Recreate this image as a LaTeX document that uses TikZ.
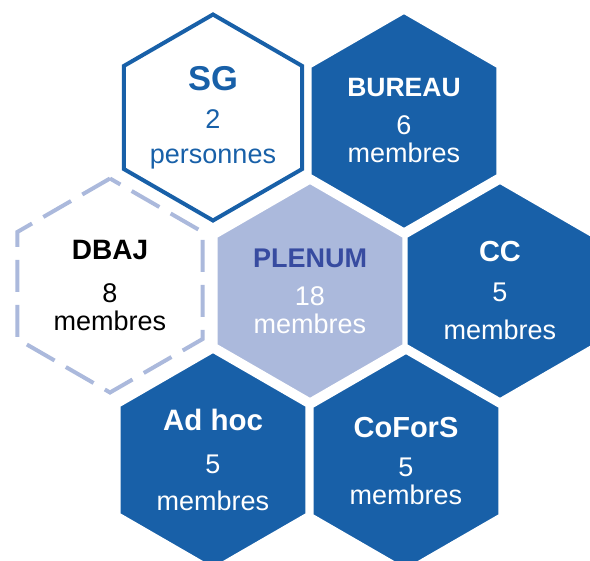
\documentclass[tikz,border=0pt]{standalone}
\usepackage{fontspec}
\setmainfont{Liberation Sans}
\usetikzlibrary{shapes.geometric}
\definecolor{hexblue}{RGB}{24,96,168}
\definecolor{hexlight}{RGB}{171,185,220}
\definecolor{hexindigo}{RGB}{55,75,160}
\tikzset{%
  hexa/.style = {
    regular polygon, regular polygon sides=6,
    shape border rotate=30, minimum size=217pt,
    inner sep=0pt, align=center, text=white,
    font=\fontsize{27}{30}\selectfont
  },
  fullhex/.style = {hexa, fill=hexblue, draw=white, line width=3pt},
  midhex/.style = {hexa, fill=hexlight, draw=white, line width=3pt},
  openhex/.style = {hexa, minimum size=206pt, draw=hexblue,
    line width=4pt, text=hexblue},
  dashedhex/.style = {hexa, minimum size=214pt, draw=hexlight,
    line width=4pt, dash pattern=on 32pt off 13pt, text=black}
}
\newcommand{\hextitle}[2]{{\bfseries\fontsize{#1}{30}\selectfont #2}}

\begin{document}
\begin{tikzpicture}[x=1pt, y=-1pt]
  \clip (0,0) rectangle (590,561);
  \node[openhex] (sg) at (213,117.5)
    {\hextitle{34.5}{SG}\\[8pt] 2\\[5pt] personnes};
  \node[fullhex] (bureau) at (404,121)
    {\hextitle{26.5}{BUREAU}\\[8pt] 6\\[-2pt] membres};
  \node[dashedhex] (dbaj) at (110,285.5)
    {\hextitle{28}{DBAJ}\\[13pt] 8\\[-2pt] membres};
  \node[midhex] (plenum) at (310,291)
    {\textcolor{hexindigo}{\hextitle{27}{PLENUM}}\\[8pt] 18\\[-2pt] membres};
  \node[fullhex] (cc) at (500,291)
    {\hextitle{29}{CC}\\[10pt] 5\\[8pt] membres};
  \node[fullhex] (adhoc) at (213,460)
    {\hextitle{29.5}{Ad hoc}\\[13pt] 5\\[7pt] membres};
  \node[fullhex] (cofors) at (406,461)
    {\hextitle{29}{CoForS}\\[9pt] 5\\[-2pt] membres};
\end{tikzpicture}
\end{document}
